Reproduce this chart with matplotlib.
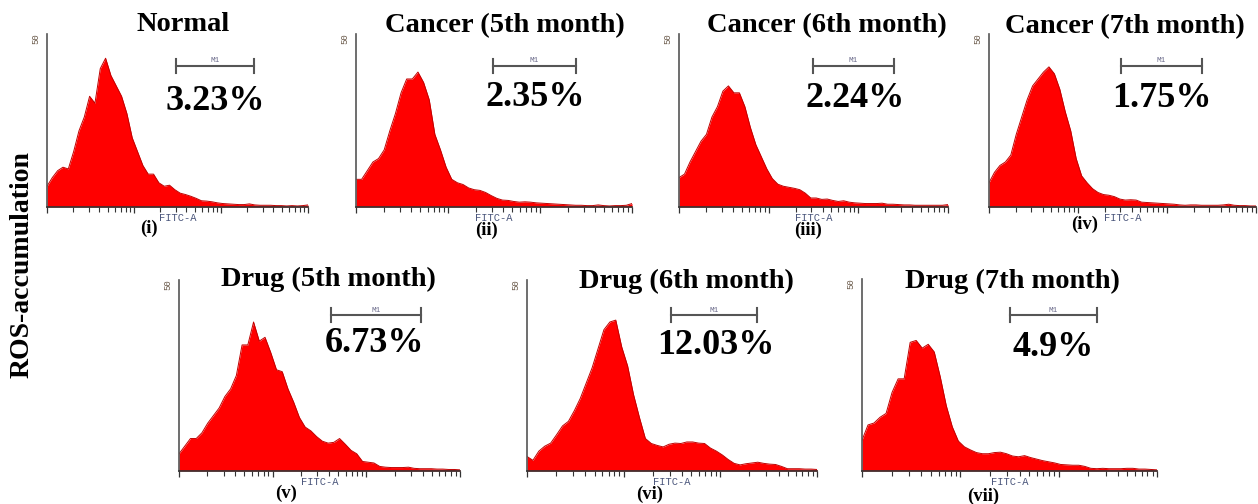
import matplotlib
matplotlib.use('Agg')
import matplotlib.pyplot as plt
import numpy as np
from matplotlib.lines import Line2D

W, H = 1258, 504

titles = ['Normal', 'Cancer (5th month)', 'Cancer (6th month)', 'Cancer (7th month)',
          'Drug (5th month)', 'Drug (6th month)', 'Drug (7th month)']
percents = ['3.23%', '2.35%', '2.24%', '1.75%', '6.73%', '12.03%', '4.9%']
numerals = ['(i)', '(ii)', '(iii)', '(iv)', '(v)', '(vi)', '(vii)']

# event counts per channel (50 log-spaced channels, y axis max 50)
normal = [6, 8.5, 10.5, 11.5, 11, 16, 22, 26, 32, 30,
          40, 43, 38, 35, 32, 27, 20, 16, 12, 9.5,
          9.5, 7, 6, 6.3, 5, 4, 3.6, 3.1, 2.5, 1.8,
          1.7, 1.5, 1.2, 1.0, 0.9, 0.8, 0.7, 0.7, 0.9, 0.6,
          0.5, 0.5, 0.5, 0.4, 0.4, 0.3, 0.4, 0.3, 0.4, 0.6]
cancer_5 = [8, 8, 10.5, 13, 14, 16.5, 22, 27, 33, 37,
            37, 39, 36, 31, 21, 16.5, 11.5, 8, 7, 6.5,
            5.5, 5, 4.8, 4.2, 3.3, 2.5, 2, 1.9, 1.6, 1.4,
            1.5, 1.4, 1.2, 1.1, 1.0, 0.9, 0.8, 0.7, 0.6, 0.5,
            0.5, 0.4, 0.4, 0.6, 0.4, 0.3, 0.4, 0.4, 0.5, 1.0]
cancer_6 = [8.5, 9.5, 13, 16, 19, 21, 26, 29, 33.5, 35,
            33, 33, 29, 23, 18, 14.5, 11, 8.2, 6.6, 6,
            5.7, 5.4, 5, 4, 2.6, 2.6, 2.2, 2.3, 1.9, 1.6,
            1.8, 1.4, 1.2, 1.1, 1.0, 1.0, 1.0, 1.1, 0.8, 0.8,
            0.7, 0.6, 0.6, 0.5, 0.5, 0.5, 0.5, 0.5, 0.5, 0.7]
cancer_7 = [7, 10, 12, 13, 15, 21, 26, 31, 35, 37,
            39, 40.5, 38.5, 34, 27.5, 22, 14, 9, 7, 5.3,
            4.2, 3.6, 3.4, 3, 2.3, 2, 2.1, 2, 1.4, 1.3,
            1.2, 1.1, 1.0, 0.9, 0.8, 0.6, 0.5, 0.6, 0.6, 0.5,
            0.5, 0.5, 0.5, 0.6, 0.8, 0.5, 0.4, 0.4, 0.3, 0.3]
drug_5 = [4.5, 6.5, 8.5, 8.5, 10, 12.5, 14.5, 16.5, 19.5, 21.5,
          25, 33, 33, 39, 34, 35, 31, 26.5, 26, 21.5,
          18, 14, 11.5, 10.5, 9, 7.8, 7.3, 7.5, 8.5, 7,
          5.4, 4.5, 2.5, 2.3, 2.1, 1.2, 1.0, 0.9, 0.9, 0.9,
          1.0, 0.7, 0.6, 0.6, 0.6, 0.5, 0.5, 0.4, 0.4, 0.3]
drug_6 = [3.8, 2.8, 5.2, 6.5, 7.3, 9.5, 11.8, 13, 15.8, 19,
          23, 27, 32, 37, 39, 39.5, 32.5, 27.5, 20, 14,
          8.5, 7.2, 6.7, 6.3, 7, 7.3, 7.2, 7.6, 7.6, 7.3,
          7.2, 6, 5.2, 4.2, 3, 2, 1.6, 1.9, 2.1, 2.3,
          2, 1.8, 1.7, 1.2, 0.6, 0.6, 0.6, 0.5, 0.5, 0.4]
drug_7 = [8, 12, 12.5, 14, 15, 20.5, 24, 24, 33.5, 34,
          32, 33, 31, 24.5, 17, 11.5, 7.8, 6.3, 5.5, 4.8,
          4.5, 4.5, 4.8, 4.9, 4.5, 3.9, 3.7, 4.0, 3.5, 3.1,
          2.7, 2.4, 2.1, 1.7, 1.6, 1.5, 1.5, 1.2, 0.7, 0.6,
          0.7, 0.6, 0.6, 0.6, 0.7, 0.7, 0.5, 0.5, 0.4, 0.3]
series = [normal, cancer_5, cancer_6, cancer_7, drug_5, drug_6, drug_7]

# layout in pixels of the original figure
boxes = [(47, 308, 34, 207), (356, 632, 34, 207), (679, 948, 34, 207), (989, 1256, 34, 207),
         (179, 460, 280, 471), (527, 817, 280, 471), (862, 1157, 279, 471)]
title_xy = [(183, 31), (505, 32), (827, 32), (1125, 33), (328, 286), (686, 288), (1012, 288)]
pct_xy = [(215, 110), (535, 106), (855, 107), (1162, 107), (374, 352), (716, 354), (1053, 356)]
m1_xy = [(176, 254, 66), (493, 576, 66), (813, 894, 66), (1121, 1202, 66),
         (331, 421, 315), (671, 757, 315), (1010, 1097, 315)]
# baselines of the panel numerals
num_xy = [(149, 233), (487, 235), (808, 235), (1085, 229), (286, 498), (650, 499), (983, 501)]


def fx(px):
    return px / W


def fy(py):
    return 1 - py / H


fig = plt.figure(figsize=(W / 100, H / 100), dpi=100)
serif = 'Liberation Serif'
mono = 'Liberation Mono'

channels = np.logspace(0, 3, 50)

for i, vals in enumerate(series):
    x0, x1, yt, yb = boxes[i]
    ax = fig.add_axes([fx(x0), fy(yb), (x1 - x0) / W, (yb - yt) / H])
    ax.fill_between(channels, vals, 0, color='#ff0000', lw=0)
    ax.plot(channels, vals, color='#c00000', lw=0.7)
    ax.set_xscale('log')
    ax.set_xlim(1, 1000)
    ax.set_ylim(0, 50)
    ax.set_yticks([])
    for s in ['top', 'right']:
        ax.spines[s].set_visible(False)
    ax.spines['left'].set_color('#555555')
    ax.spines['bottom'].set_color('#333333')
    ax.spines['left'].set_linewidth(1.2)
    ax.spines['bottom'].set_linewidth(1.2)
    ax.tick_params(axis='x', which='major', direction='out', length=4, width=0.9,
                   colors='#333333', labelbottom=False)
    ax.tick_params(axis='x', which='minor', direction='out', length=3.5, width=0.8,
                   colors='#333333', labelbottom=False)
    ax.patch.set_alpha(0)

    fig.text(fx(x0 - 11), fy(yt + 5), '50', rotation=90, fontsize=6.5, family=mono,
             color='#6a5a4a', ha='center', va='center')
    fig.text(fx((x0 + x1) / 2), fy(yb + 14), 'FITC-A', fontsize=7.5, family=mono,
             color='#48547a', ha='center', va='baseline')

    tx, ty = title_xy[i]
    fig.text(fx(tx), fy(ty), titles[i], fontsize=20.5, family=serif, weight='bold',
             ha='center', va='baseline')
    px, py = pct_xy[i]
    fig.text(fx(px), fy(py), percents[i], fontsize=26, family=serif, weight='bold',
             ha='center', va='baseline')
    nx, ny = num_xy[i]
    fig.text(fx(nx), fy(ny), numerals[i], fontsize=13.5, family=serif, weight='bold',
             ha='center', va='baseline')

    m0, m1, my = m1_xy[i]
    fig.add_artist(Line2D([fx(m0), fx(m1)], [fy(my), fy(my)], color='#555555', lw=1.5))
    for mx in (m0, m1):
        fig.add_artist(Line2D([fx(mx), fx(mx)], [fy(my - 7), fy(my + 7)],
                              color='#555555', lw=1.5))
    fig.text(fx((m0 + m1) / 2), fy(my - 5), 'M1', fontsize=5.5, family=mono,
             color='#6a6a8a', ha='center', va='center')

fig.text(fx(22), fy(265), 'ROS-accumulation', rotation=90, fontsize=20, family=serif,
         weight='bold', ha='center', va='center')

fig.savefig('out.png', dpi=100)
